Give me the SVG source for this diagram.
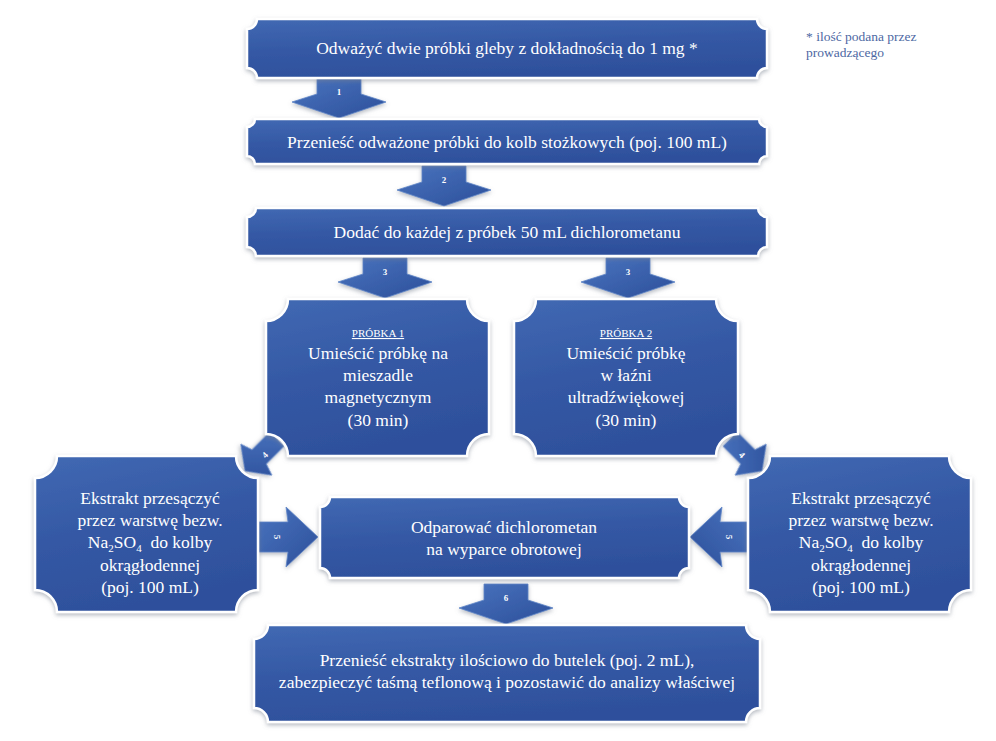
<svg xmlns="http://www.w3.org/2000/svg" width="996" height="741" viewBox="0 0 996 741">
<defs>
<linearGradient id="gBox" x1="0" y1="0" x2="0.3" y2="1">
<stop offset="0" stop-color="#4169b3"/>
<stop offset="0.5" stop-color="#3559a5"/>
<stop offset="1" stop-color="#2e509c"/>
</linearGradient>
<linearGradient id="gArr" x1="0" y1="0" x2="1" y2="1">
<stop offset="0" stop-color="#4a74bf"/>
<stop offset="1" stop-color="#2c4f9a"/>
</linearGradient>
<filter id="sh" x="-10%" y="-10%" width="120%" height="130%">
<feDropShadow dx="0" dy="2" stdDeviation="2" flood-color="#7a8290" flood-opacity="0.55"/>
</filter>
<path id="arrDown" d="M-22,-40 L22,-40 L22,-24 L47,-16 L0,0 L-47,-16 L-22,-24 Z"/>
<path id="arrSide" d="M-60,-15 L-30,-15 L-32,-30 L0,0 L-32,30 L-30,15 L-60,15 Z"/>
<path id="arrSmall" d="M-10,-45 L10,-45 L10,-20 L22,-16 L0,0 L-22,-16 L-10,-20 Z"/>
</defs>
<style>
.box{fill:url(#gBox);stroke:#ffffff;stroke-width:2.5;filter:url(#sh)}
.arr{fill:url(#gArr);stroke:#5f86c8;stroke-width:0.8;filter:url(#sh)}
text{font-family:'Liberation Serif','Tinos','DejaVu Serif',serif}
.t{fill:#ffffff;text-anchor:middle;font-size:17.5px}
.s{fill:#ffffff;text-anchor:middle;font-size:11px;text-decoration:underline}
.n{fill:#ffffff;text-anchor:middle;font-size:9px;font-weight:bold}
.note{fill:#4d68a3;font-size:13.5px}
</style>
<rect width="996" height="741" fill="#ffffff"/>

<g id="connectors">
<g id="a1"><use href="#arrDown" class="arr" transform="translate(339,118)"/><text class="n" font-family="Liberation Serif" x="339" y="95">1</text></g>
<g id="a2"><use href="#arrDown" class="arr" transform="translate(444,206)"/><text class="n" font-family="Liberation Serif" x="444" y="183">2</text></g>
<g id="a3l"><use href="#arrDown" class="arr" transform="translate(385,298)"/><text class="n" font-family="Liberation Serif" x="385" y="275">3</text></g>
<g id="a3r"><use href="#arrDown" class="arr" transform="translate(628,298)"/><text class="n" font-family="Liberation Serif" x="628" y="275">3</text></g>
<g id="a4l"><use href="#arrSmall" class="arr" transform="translate(245,471) rotate(45)"/><text class="n" font-family="Liberation Serif" transform="translate(265,455) rotate(-45)" x="0" y="3">4</text></g>
<g id="a4r"><use href="#arrSmall" class="arr" transform="translate(762,471) rotate(-45)"/><text class="n" font-family="Liberation Serif" transform="translate(742,455) rotate(45)" x="0" y="3">4</text></g>
<g id="a5l"><use href="#arrSide" class="arr" transform="translate(318,537)"/><text class="n" font-family="Liberation Serif" transform="translate(277,537) rotate(90)" x="0" y="3">5</text></g>
<g id="a5r"><use href="#arrSide" class="arr" transform="translate(690,537) scale(-1,1)"/><text class="n" font-family="Liberation Serif" transform="translate(729,537) rotate(90)" x="0" y="3">5</text></g>
<g id="a6"><use href="#arrDown" class="arr" transform="translate(506,624)"/><text class="n" font-family="Liberation Serif" x="506" y="601">6</text></g>
</g>

<g id="n1">
<path class="box" d="M257,19 L757,19 A10,10 0 0 0 767,29 L767,68 A10,10 0 0 0 757,78 L257,78 A10,10 0 0 0 247,68 L247,29 A10,10 0 0 0 257,19 Z"/>
<text class="t" font-family="Liberation Serif" x="507" y="54">Odważyć dwie próbki gleby z dokładnością do 1 mg *</text>
</g>
<g id="n2">
<path class="box" d="M255,119 L759,119 A8,8 0 0 0 767,127 L767,156 A8,8 0 0 0 759,164 L255,164 A8,8 0 0 0 247,156 L247,127 A8,8 0 0 0 255,119 Z"/>
<text class="t" font-family="Liberation Serif" x="507" y="148">Przenieść odważone próbki do kolb stożkowych (poj. 100 mL)</text>
</g>
<g id="n3">
<path class="box" d="M256,208 L758,208 A9,9 0 0 0 767,217 L767,247 A9,9 0 0 0 758,256 L256,256 A9,9 0 0 0 247,247 L247,217 A9,9 0 0 0 256,208 Z"/>
<text class="t" font-family="Liberation Serif" x="507" y="238">Dodać do każdej z próbek 50 mL dichlorometanu</text>
</g>
<g id="p1">
<path class="box" d="M288,299 L467,299 A22,22 0 0 0 489,321 L489,434 A22,22 0 0 0 467,456 L288,456 A22,22 0 0 0 266,434 L266,321 A22,22 0 0 0 288,299 Z"/>
<text class="s" font-family="Liberation Serif" x="378" y="337">PRÓBKA 1</text>
<text class="t" font-family="Liberation Serif" x="378" y="359">Umieścić próbkę na</text>
<text class="t" font-family="Liberation Serif" x="378" y="381">mieszadle</text>
<text class="t" font-family="Liberation Serif" x="378" y="403">magnetycznym</text>
<text class="t" font-family="Liberation Serif" x="378" y="426">(30 min)</text>
</g>
<g id="p2">
<path class="box" d="M536,299 L716,299 A22,22 0 0 0 738,321 L738,434 A22,22 0 0 0 716,456 L536,456 A22,22 0 0 0 514,434 L514,321 A22,22 0 0 0 536,299 Z"/>
<text class="s" font-family="Liberation Serif" x="626" y="337">PRÓBKA 2</text>
<text class="t" font-family="Liberation Serif" x="626" y="359">Umieścić próbkę</text>
<text class="t" font-family="Liberation Serif" x="626" y="381">w łaźni</text>
<text class="t" font-family="Liberation Serif" x="626" y="403">ultradźwiękowej</text>
<text class="t" font-family="Liberation Serif" x="626" y="426">(30 min)</text>
</g>
<g id="l">
<path class="box" d="M57,456 L236,456 A22,22 0 0 0 258,478 L258,590 A22,22 0 0 0 236,612 L57,612 A22,22 0 0 0 35,590 L35,478 A22,22 0 0 0 57,456 Z"/>
<text class="t" font-family="Liberation Serif" x="150" y="504">Ekstrakt przesączyć</text>
<text class="t" font-family="Liberation Serif" x="150" y="526">przez warstwę bezw.</text>
<text class="t" font-family="Liberation Serif" x="150" y="548" xml:space="preserve">Na<tspan font-size="11" dy="4">2</tspan><tspan dy="-4">SO</tspan><tspan font-size="11" dy="4">4</tspan><tspan dy="-4">  do kolby</tspan></text>
<text class="t" font-family="Liberation Serif" x="150" y="571">okrągłodennej</text>
<text class="t" font-family="Liberation Serif" x="150" y="593">(poj. 100 mL)</text>
</g>
<g id="m">
<path class="box" d="M330,497 L679,497 A10,10 0 0 0 689,507 L689,568 A10,10 0 0 0 679,578 L330,578 A10,10 0 0 0 320,568 L320,507 A10,10 0 0 0 330,497 Z"/>
<text class="t" font-family="Liberation Serif" x="504" y="533">Odparować dichlorometan</text>
<text class="t" font-family="Liberation Serif" x="504" y="555">na wyparce obrotowej</text>
</g>
<g id="r">
<path class="box" d="M770,456 L949,456 A22,22 0 0 0 971,478 L971,590 A22,22 0 0 0 949,612 L770,612 A22,22 0 0 0 748,590 L748,478 A22,22 0 0 0 770,456 Z"/>
<text class="t" font-family="Liberation Serif" x="861" y="504">Ekstrakt przesączyć</text>
<text class="t" font-family="Liberation Serif" x="861" y="526">przez warstwę bezw.</text>
<text class="t" font-family="Liberation Serif" x="861" y="548" xml:space="preserve">Na<tspan font-size="11" dy="4">2</tspan><tspan dy="-4">SO</tspan><tspan font-size="11" dy="4">4</tspan><tspan dy="-4">  do kolby</tspan></text>
<text class="t" font-family="Liberation Serif" x="861" y="571">okrągłodennej</text>
<text class="t" font-family="Liberation Serif" x="861" y="593">(poj. 100 mL)</text>
</g>
<g id="b">
<path class="box" d="M268,625 L746,625 A14,14 0 0 0 760,639 L760,708 A14,14 0 0 0 746,722 L268,722 A14,14 0 0 0 254,708 L254,639 A14,14 0 0 0 268,625 Z"/>
<text class="t" font-family="Liberation Serif" x="507" y="666">Przenieść ekstrakty ilościowo do butelek (poj. 2 mL),</text>
<text class="t" font-family="Liberation Serif" x="507" y="688">zabezpieczyć taśmą teflonową i pozostawić do analizy właściwej</text>
</g>
<g id="note">
<text class="note" font-family="Liberation Serif" x="806" y="41">* ilość podana przez</text>
<text class="note" font-family="Liberation Serif" x="806" y="57">prowadzącego</text>
</g>
</svg>
